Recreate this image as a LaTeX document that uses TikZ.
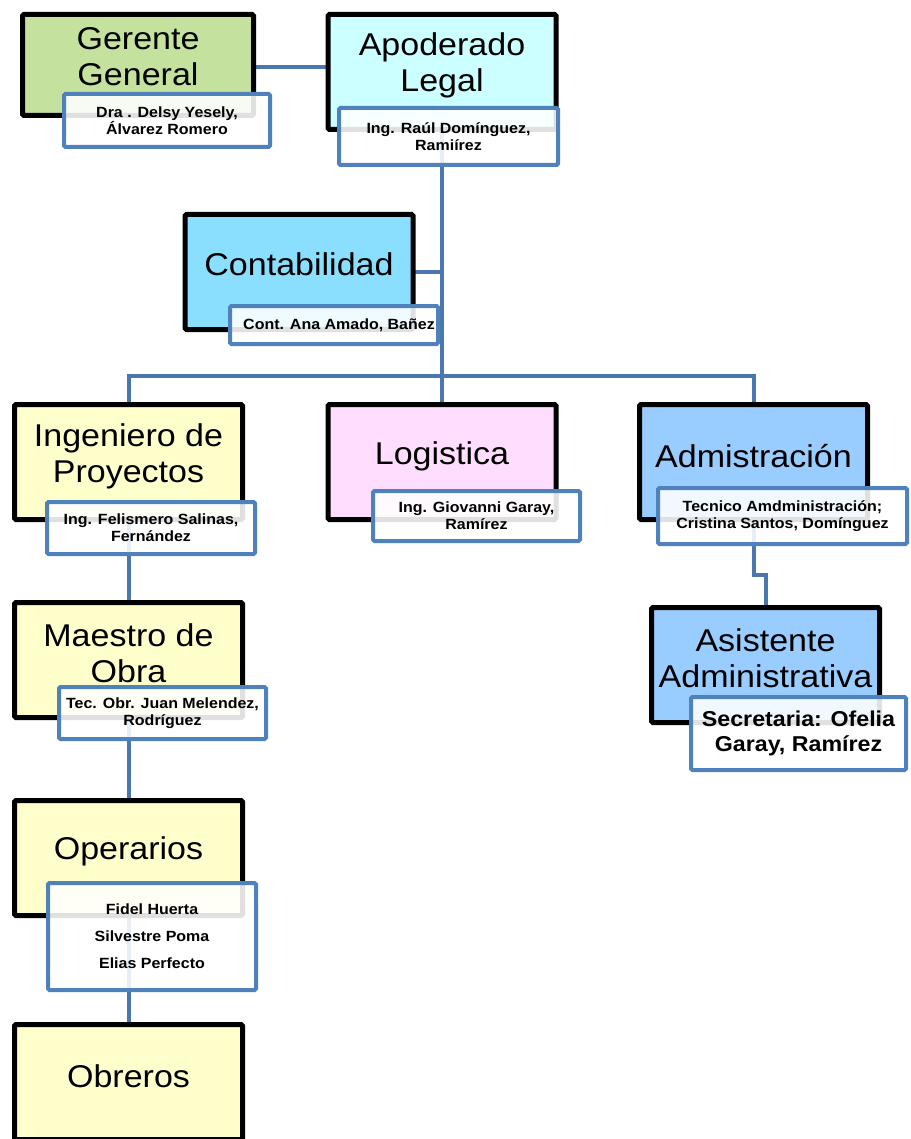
\documentclass[tikz,border=0pt]{standalone}
\usepackage{fontspec}
\setmainfont[FakeStretch=1.08]{Liberation Sans}
\definecolor{gerente}{HTML}{C4E29E}
\definecolor{apoderado}{HTML}{CCFFFF}
\definecolor{conta}{HTML}{8ADFFF}
\definecolor{obra}{HTML}{FFFFCC}
\definecolor{logis}{HTML}{FFDDFE}
\definecolor{admin}{HTML}{99CCFF}
\definecolor{tagblue}{HTML}{4F81BD}
\definecolor{linkblue}{HTML}{4A77B0}
\pgfdeclarelayer{links}
\pgfsetlayers{links,main}
\tikzset{
  unit/.style={draw=black, line width=5pt, rounded corners=1.5pt,
    minimum width=228pt, minimum height=115pt, inner sep=0pt},
  title/.style={font=\fontsize{31.5}{36}\selectfont, align=center, inner sep=0pt},
  tag/.style={draw=tagblue, line width=4pt, fill=white, fill opacity=0.88,
    text opacity=1, rounded corners=1.5pt, inner sep=0pt, align=center,
    font=\bfseries\fontsize{14.8}{17}\selectfont},
  conn/.style={draw=linkblue, line width=4pt},
}
\begin{document}
\begin{tikzpicture}[x=1pt,y=-1pt]
\path[use as bounding box, clip] (0,0) rectangle (910,1139);

% top level
\node[unit, fill=gerente, minimum width=231pt, minimum height=101pt] (gg) at (138,65) {};
\node[title] (gg-t) at (138,57) {Gerente\\General};
\node[unit, fill=apoderado] (ap) at (442,72) {};
\node[title] (ap-t) at (442,65) {Apoderado\\Legal};
\node[unit, fill=conta] (cont) at (299,272) {};
\node[title] (cont-t) at (299,264) {Contabilidad};

% second level
\node[unit, fill=obra] (ing) at (128.5,462) {};
\node[title] (ing-t) at (128.5,456) {Ingeniero de\\Proyectos};
\node[unit, fill=logis] (log) at (442,462) {};
\node[title] (log-t) at (442,456) {Logistica};
\node[unit, fill=admin] (adm) at (753.5,462) {};
\node[title] (adm-t) at (753.5,456) {Admistración};

% lower levels
\node[unit, fill=admin] (asis) at (765.5,665) {};
\node[title] (asis-t) at (765.5,658) {Asistente\\Administrativa};
\node[unit, fill=obra] (mae) at (128.5,660) {};
\node[title] (mae-t) at (128.5,653) {Maestro de\\Obra};
\node[unit, fill=obra] (ope) at (128.5,858) {};
\node[title] (ope-t) at (128.5,851) {Operarios};
\node[unit, fill=obra] (obr) at (128.5,1082) {};
\node[title] (obr-t) at (128.5,1076) {Obreros};

% name tags
\node[tag, minimum width=206pt, minimum height=53pt] (gg-l) at (167,120.5) {Dra . Delsy Yesely,\\Álvarez Romero};
\node[tag, minimum width=219pt, minimum height=57pt] (ap-l) at (448.5,136.5) {Ing. Raúl Domínguez,\\Ramiírez};
\node[tag, minimum width=208pt, minimum height=38pt] (cont-l) at (334,325) {\hspace*{10pt}Cont. Ana Amado, Bañez};
\node[tag, minimum width=208pt, minimum height=52pt] (ing-l) at (151,528) {Ing. Felismero Salinas,\\Fernández};
\node[tag, minimum width=207pt, minimum height=50pt] (log-l) at (476.5,516) {Ing. Giovanni Garay,\\Ramírez};
\node[tag, minimum width=249pt, minimum height=56pt] (adm-l) at (782.5,516) {Tecnico Amdministración;\\Cristina Santos, Domínguez};
\node[tag, minimum width=215pt, minimum height=73pt, font=\bfseries\fontsize{21.5}{25}\selectfont] (asis-l) at (798.5,733.5) {Secretaria: Ofelia\\Garay, Ramírez};
\node[tag, minimum width=207pt, minimum height=52pt] (mae-l) at (162.5,713) {Tec. Obr. Juan Melendez,\\Rodríguez};
\node[tag, minimum width=208pt, minimum height=107pt, font=\bfseries\fontsize{14.8}{27}\selectfont] (ope-l) at (152,936.5) {Fidel Huerta\\Silvestre Poma\\Elias Perfecto};

\coordinate (top) at (0,67);
\coordinate (bus) at (442,376);
\coordinate (jog) at (753.5,575);

% connectors behind the boxes
\begin{pgfonlayer}{links}
\draw[conn] (gg.center |- top) -- (ap.center |- top);
\draw[conn] (ap.center) -- (bus);
\draw[conn] (cont.center) -- (cont.center -| ap.center);
\draw[conn] (ing.center) |- (bus) -| (adm.center);
\draw[conn] (bus) -- (log.center);
\draw[conn] (adm.center) -- (jog) -| (asis.center);
\draw[conn] (ing.center) -- (mae.center) -- (ope.center) -- (obr.center);
\end{pgfonlayer}
\end{tikzpicture}
\end{document}
